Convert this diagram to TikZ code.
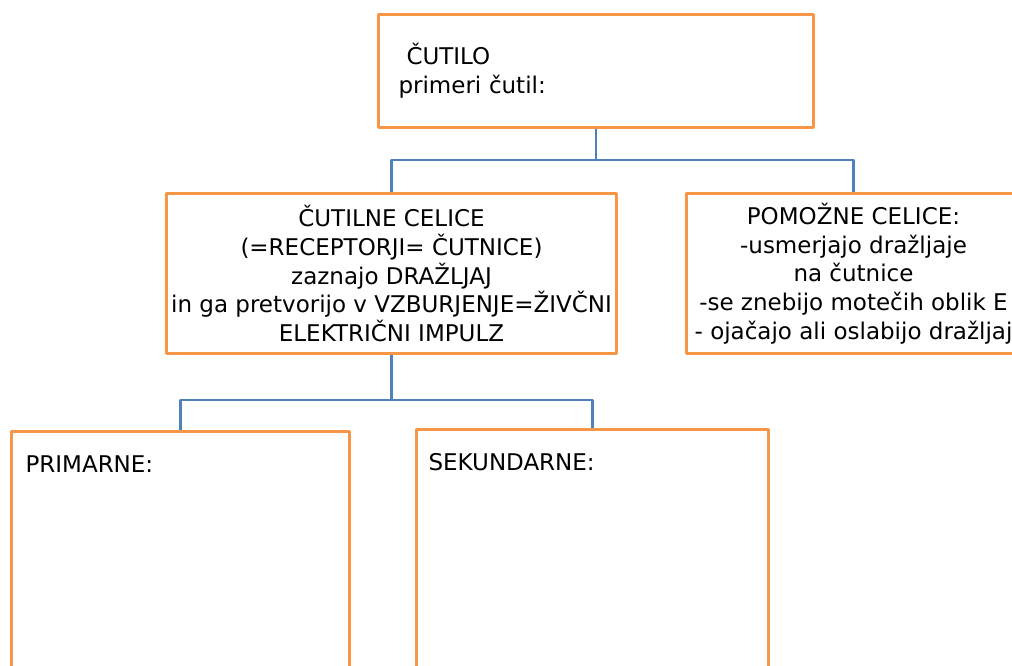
\documentclass[tikz,border=0pt]{standalone}
\usepackage{fontspec}
\setmainfont{DejaVu Sans}
\definecolor{boxorange}{HTML}{F79646}
\definecolor{lineblue}{HTML}{4F81BD}
\begin{document}
\begin{tikzpicture}[x=1pt, y=-1pt, font=\fontsize{23}{28.7}\selectfont, line join=round,
	box/.style={draw=boxorange, line width=3pt, inner sep=2pt, align=center, anchor=north west},
	conn/.style={draw=lineblue, line width=2.5pt}]
	\useasboundingbox (0,0) rectangle (1012,666);
	\clip (0,0) rectangle (1012,666);

	\node[box, minimum width=435, minimum height=113, text width=395, align=left] (cutilo) at (377,13)
		{\hspace*{8pt}ČUTILO\\primeri čutil:};
	\node[box, minimum width=450, minimum height=160] (celice) at (165,192)
		{ČUTILNE CELICE\\(=RECEPTORJI= ČUTNICE)\\zaznajo DRAŽLJAJ\\in ga pretvorijo v VZBURJENJE=ŽIVČNI\\ELEKTRIČNI IMPULZ};
	\node[box, minimum width=334, minimum height=160] (pomozne) at (685,192)
		{POMOŽNE CELICE:\\-usmerjajo dražljaje\\na čutnice\\-se znebijo motečih oblik E\\- ojačajo ali oslabijo dražljaj};
	\node[box, minimum width=338, minimum height=260] (primarne) at (10,430) {};
	\node[box, minimum width=352, minimum height=262] (sekundarne) at (415,428) {};

	\node[anchor=base west, xshift=12pt, yshift=-42pt] (primtxt) at (primarne.north west) {PRIMARNE:};
	\node[anchor=base west, xshift=10pt, yshift=-42pt] (sektxt) at (sekundarne.north west) {SEKUNDARNE:};

	\draw[conn] (cutilo.south) -- ++(0,31) coordinate (j1);
	\draw[conn] (celice.north) |- (j1) -| (pomozne.north);
	\draw[conn] (celice.south) -- ++(0,45) coordinate (j2);
	\draw[conn] (primarne.north) |- (j2) -| (sekundarne.north);
\end{tikzpicture}
\end{document}
